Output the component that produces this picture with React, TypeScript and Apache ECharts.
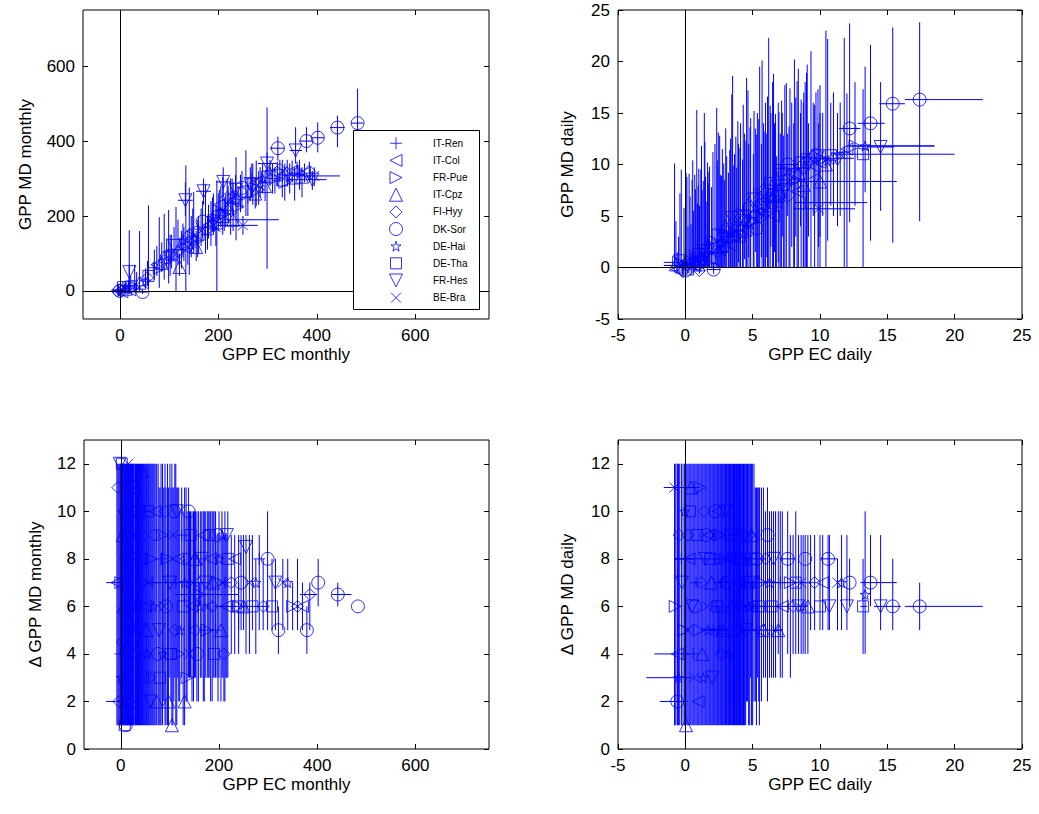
import React, { useEffect, useRef } from 'react';
import * as echarts from 'echarts';

const FONT = '"Liberation Sans", Arial, Helvetica, sans-serif';
const BLUE = '#0000ff';

const SITES = ['IT-Ren', 'IT-Col', 'FR-Pue', 'IT-Cpz', 'FI-Hyy', 'DK-Sor', 'DE-Hai', 'DE-Tha', 'FR-Hes', 'BE-Bra'];
const SYMBOLS = [
  'path://M5,0L5,10M0,5L10,5',
  'path://M10,0L0,5L10,10Z',
  'path://M0,0L10,5L0,10Z',
  'path://M5,0L10,10L0,10Z',
  'path://M5,0L10,5L5,10L0,5Z',
  'path://M0,5A5,5,0,1,1,10,5A5,5,0,1,1,0,5Z',
  'path://M50,0L61.23,34.55L97.55,34.55L68.16,55.9L79.39,90.45L50,69.1L20.61,90.45L31.84,55.9L2.45,34.55L38.77,34.55Z',
  'path://M0,0L10,0L10,10L0,10Z',
  'path://M0,0L10,0L5,10Z',
  'path://M0,0L10,10M10,0L0,10',
];
const SYMBOL_SIZES = [12, 12, 12, 13, 12, 13, 10, 11, 13, 10];

const MONTHLY_TICKS = [0, 200, 400, 600];
const DAILY_TICKS = [-5, 0, 5, 10, 15, 20, 25];
const DELTA_TICKS = [0, 2, 4, 6, 8, 10, 12];

// [site, x, y, yLow, yHigh, xLow?, xHigh?]
const gppMonthly = [
  [0, -3, 2, -6, 12, -14, 8], [1, 4, -2, -8, 6], [2, 8, 3, -4, 14], [3, 12, 6, -2, 20], [4, -6, 0, -5, 6, -16, 4],
  [5, 46, -3, -8, 4, 34, 56], [6, 18, 8, 0, 30], [7, 22, 12, 2, 40], [8, 19, 50, 30, 70], [9, 10, 5, -4, 18],
  [4, 2, -1, -6, 5], [7, 6, 10, -2, 26], [1, 20, 3, -3, 10], [9, 34, 16, 4, 50], [0, 19, 14, 0, 162],
  [3, 40, 22, 0, 160], [2, 30, 10, 0, 70], [5, 0, 0, -8, 8, -12, 12], [6, 52, 26, 8, 60], [4, 56, 35, 14, 80],
  [7, 58, 40, 5, 228], [0, 70, 62, 30, 110], [1, 75, 70, 40, 120], [2, 80, 60, 8, 197], [3, 85, 75, 50, 130],
  [4, 90, 82, 30, 206], [5, 95, 90, 60, 140], [6, 99, 100, 20, 216], [7, 105, 95, 60, 150], [8, 110, 120, 80, 170],
  [9, 114, 100, 0, 224], [3, 121, 64, 40, 100], [0, 125, 110, 60, 160], [1, 130, 118, 80, 170], [8, 133, 242, 200, 290, 118, 148],
  [2, 134, 125, 0, 335], [4, 141, 150, 43, 276], [5, 145, 130, 90, 200], [3, 155, 117, 80, 160], [6, 150, 140, 100, 264],
  [7, 160, 150, 100, 200], [8, 170, 266, 230, 300, 155, 185], [9, 165, 160, 120, 220], [0, 174, 170, 100, 286], [1, 180, 175, 140, 230],
  [2, 185, 165, 120, 240], [4, 190, 190, 150, 260], [7, 197, 180, 0, 295], [5, 200, 200, 160, 260], [6, 205, 210, 170, 280],
  [8, 210, 291, 250, 330, 195, 225], [3, 209, 200, 150, 304], [0, 215, 215, 170, 260], [9, 220, 230, 180, 280], [7, 225, 220, 150, 300],
  [1, 230, 240, 200, 290], [4, 236, 245, 135, 357], [2, 240, 225, 180, 280], [9, 250, 175, 150, 200, 200, 280], [3, 230, 190, 160, 220, 212, 323],
  [5, 245, 260, 210, 310], [7, 256, 265, 200, 375], [0, 260, 250, 200, 300], [8, 265, 285, 240, 330], [4, 270, 280, 230, 340],
  [1, 277, 290, 227, 348], [2, 282, 270, 230, 320], [6, 290, 300, 260, 340], [7, 299, 305, 59, 490], [3, 295, 280, 240, 320],
  [8, 299, 340, 310, 370, 280, 320], [5, 321, 381, 348, 412, 305, 335], [0, 310, 300, 260, 340], [7, 320, 310, 280, 345], [9, 330, 320, 290, 350],
  [2, 335, 290, 241, 340], [4, 340, 315, 280, 350], [6, 345, 305, 260, 340], [1, 350, 320, 290, 348], [7, 355, 300, 241, 330],
  [8, 357, 375, 340, 437, 345, 370], [0, 365, 310, 270, 350, 355, 375], [3, 370, 305, 250, 330], [5, 379, 400, 370, 437, 365, 392], [4, 385, 320, 290, 345],
  [8, 391, 297, 270, 320, 340, 420], [9, 395, 307, 280, 330, 365, 447], [5, 402, 409, 370, 450, 390, 415], [5, 442, 436, 384, 468, 427, 457], [5, 483, 448, 390, 540, 470, 495],
  [0, 102, 85, 40, 150], [4, 118, 105, 70, 190], [6, 128, 135, 90, 180], [9, 138, 115, 70, 160], [1, 148, 160, 110, 220],
  [2, 158, 135, 90, 190], [5, 168, 185, 140, 240], [0, 178, 150, 110, 200], [6, 188, 200, 160, 250], [9, 195, 170, 120, 230],
  [1, 202, 230, 190, 270], [2, 212, 205, 160, 250], [4, 218, 250, 200, 300], [6, 228, 255, 210, 300], [8, 235, 270, 230, 310],
  [5, 248, 275, 220, 320], [0, 268, 300, 250, 340], [3, 275, 260, 220, 300], [9, 285, 290, 250, 330], [6, 305, 318, 280, 350],
  [2, 315, 300, 260, 330], [4, 325, 325, 290, 350], [7, 330, 295, 250, 330], [6, 360, 322, 300, 345], [1, 375, 315, 290, 340],
];

const gppDaily = [
  [0, -0.8, 0.2, 0, 10.1, -1.6, 0.5], [1, -0.6, -0.2, -0.6, 1.5], [2, -0.5, 0.5, 0, 3, -1.6, 0.2], [3, -0.3, 0.1, 0, 9.5], [4, -0.2, -0.4, -0.6, 0.8],
  [5, 0.0, -0.3, -0.6, 2], [6, 0.05, 0.3, 0, 9.2], [7, 0.2, -0.2, -0.5, 4], [8, 0.35, 0.4, 0, 6.9], [9, 0.5, 0.1, 0, 8.5],
  [0, 0.6, 0.5, 0, 5.5], [1, 0.7, 0.2, 0, 9], [2, 0.85, 0.8, 0, 15.3], [3, 0.95, 0.3, 0, 8], [4, 1.05, -0.3, -0.6, 6],
  [5, 1.15, 0.6, 0, 9.5], [6, 1.25, 1.0, 0, 7.5], [7, 1.41, 0.8, 0, 15.0], [8, 1.5, 1.2, 0, 8.8], [9, 1.6, 0.4, 0, 6.4],
  [0, 1.7, 1.5, 0, 8.2], [1, 1.8, 0.9, 0, 9.8], [5, 2.1, -0.2, -0.6, 0.5, 1.6, 2.6], [2, 2.2, 1.8, 0, 12], [3, 2.33, 2.0, 0, 15.5],
  [4, 2.45, 1.5, 0, 13.1], [6, 2.6, 2.4, 0, 9], [7, 2.75, 2.0, 0, 11.5], [8, 2.9, 2.8, 0, 8.5], [9, 3.07, 2.5, 0, 10.8],
  [0, 3.2, 3.0, 0, 9.2], [1, 3.35, 2.2, 0, 12.5], [2, 3.51, 3.5, 0, 18.6], [3, 3.65, 3.2, 0, 11], [4, 3.81, 3.0, 0, 9.7],
  [5, 3.95, 3.8, 0.5, 12], [6, 4.1, 4.0, 0, 14], [7, 4.25, 3.5, 0, 10.5], [8, 4.4, 4.5, 0.8, 13], [9, 4.55, 4.2, 0, 18.4],
  [0, 4.7, 4.8, 1, 12], [1, 4.85, 5.0, 0, 14.5], [2, 5.05, 4.5, 0, 11], [3, 5.2, 5.5, 1.5, 13.5], [4, 5.35, 5.0, 0, 15],
  [5, 5.52, 6.0, 0, 19.5], [6, 5.65, 5.5, 1, 12], [7, 5.8, 6.2, 0, 14], [8, 5.95, 5.8, 0, 16], [9, 6.05, 6.5, 1, 13],
  [0, 6.19, 7.0, 0, 22.3], [1, 6.35, 6.0, 2, 15], [2, 6.48, 6.8, 0, 18], [3, 6.62, 7.2, 1.5, 14], [4, 6.78, 7.5, 0, 10.8],
  [5, 6.9, 7.0, 0.5, 16], [6, 7.05, 7.8, 0, 13], [7, 7.2, 8.0, 3, 15], [8, 7.39, 7.5, 0, 17.7], [5, 7.6, 10.0, 5, 13, 6.8, 8.4],
  [9, 7.77, 8.5, 0, 17.4], [0, 7.9, 8.2, 2, 16], [1, 8.05, 9.0, 0, 14], [2, 8.2, 8.5, 3, 16.5], [3, 8.39, 9.2, 0, 19.3],
  [4, 8.55, 9.8, 4, 15], [6, 8.76, 9.5, 0, 16], [0, 8.9, 6.3, 0, 18, 8.1, 13.5], [7, 9.0, 10.5, 0, 18.9], [8, 9.15, 10.0, 3, 14],
  [9, 9.33, 9.8, 0, 21], [4, 9.5, 10.8, 5, 16], [5, 9.7, 10.9, 6, 17], [9, 9.9, 5.7, 2, 14, 8.0, 12.6], [1, 10.0, 10.2, 0, 17.7],
  [2, 10.2, 10.5, 5, 15], [3, 10.44, 10.0, 0, 23.0], [6, 10.57, 10.4, 2.6, 22.2], [7, 10.8, 10.9, 6, 16], [4, 11.0, 10.6, 5, 17, 9.5, 12.5],
  [8, 11.3, 10.5, 4, 15], [9, 11.5, 11.0, 5, 16], [0, 11.8, 11.2, 0, 22.3], [1, 12.0, 11.5, 0, 16.9], [5, 12.2, 13.5, 4.4, 23.7, 11.4, 13.0],
  [2, 12.6, 11.8, 6, 18, 12.2, 18.5], [7, 13.2, 11.0, 0, 17.3, 11.0, 20.0], [6, 13.35, 11.8, 7.3, 19.5, 12.0, 18.5], [5, 13.75, 14.0, 2.6, 21.6, 12.8, 14.8], [8, 14.5, 11.7, 5.5, 18, 13.5, 15.5],
  [5, 15.4, 15.9, 2.4, 23.3, 14.4, 16.3], [5, 17.4, 16.3, 4.5, 23.8, 16.3, 22.1], [3, 10.0, 8.35, 3, 15, 8.3, 15.7],
  [3, -0.7, 0.3, 0, 4.5], [8, -0.4, 0.6, 0, 7.2], [0, -0.1, 0.2, 0, 5.8], [9, 0.12, 0.0, 0, 8.8], [1, 0.28, 0.5, 0, 9.1],
  [4, 0.42, -0.1, 0, 4.2], [6, 0.55, 0.7, 0, 10.4], [2, 0.75, 1.1, 0, 7.6], [5, 0.9, 0.4, 0, 6.2], [7, 1.0, 1.3, 0, 9.6],
  [3, 1.2, 0.9, 0, 11.8], [8, 1.33, 1.6, 0, 8.4], [0, 1.45, 1.0, 0, 12.2], [4, 1.65, 1.9, 0, 10.2], [6, 1.75, 2.3, 0, 9.3],
  [9, 1.95, 1.4, 0, 7.8], [2, 2.05, 2.6, 0, 11.2], [7, 2.4, 3.2, 0, 10.4], [1, 2.55, 1.7, 0, 12.8], [0, 2.68, 3.6, 0, 8.9],
  [5, 2.85, 2.1, 0, 10.1], [3, 3.0, 4.0, 0, 13.5], [6, 3.3, 3.4, 0, 11.4], [8, 3.45, 4.8, 0, 16.8], [2, 3.6, 2.8, 0, 9.9],
  [9, 3.75, 4.4, 0, 12.7], [4, 3.9, 5.2, 0, 14.2], [7, 4.05, 3.0, 0, 11.6], [0, 4.3, 5.6, 0, 15.8], [1, 4.5, 3.6, 0, 12.3],
  [3, 4.65, 6.1, 0, 17.2], [6, 4.8, 4.2, 0, 13.6], [8, 5.1, 6.6, 0, 15.2], [5, 5.3, 3.8, 0, 12.9], [9, 5.45, 7.2, 0, 14.4],
  [2, 5.7, 4.8, 0, 20.1], [4, 5.85, 7.6, 0, 13.2], [0, 6.1, 5.4, 0, 16.6], [7, 6.3, 8.2, 0, 15.7], [1, 6.55, 5.0, 0, 18.8],
  [3, 6.7, 8.6, 0, 14.9], [6, 6.95, 6.2, 0, 15.1], [8, 7.15, 9.0, 0, 16.2], [9, 7.3, 6.6, 0, 12.8], [2, 7.5, 9.4, 0, 17.9],
  [4, 7.7, 7.0, 0, 13.7], [0, 8.1, 9.6, 0, 20.2], [1, 8.3, 7.4, 0, 18.1], [7, 8.6, 10.2, 0, 16.3], [3, 8.8, 8.0, 0, 17.0],
  [6, 9.05, 10.6, 0, 19.7], [2, 9.6, 9.2, 0, 15.8], [8, 9.85, 10.8, 0, 17.3],
];

const deltaMonthly = [
  [8, -2, 12, 1, 12], [7, 2, 12, 1, 12], [4, -6, 11, 1, 12], [1, -8, 7, 1, 12, -30, 0], [2, 0, 7, 1, 12],
  [4, 3, 4.5, 1, 12], [6, 5, 2, 1, 12, -30, 10], [7, 8, 1, 1, 12], [5, 10, 1, 1, 12], [3, 12, 3, 1, 12],
  [9, 14, 7, 1, 12], [0, 16, 5, 1, 12], [2, 18, 9, 1, 12], [1, 20, 10, 1, 12], [8, 22, 11, 1, 12],
  [7, 24, 1.5, 1, 12], [4, -4, 2, 1, 12], [6, 1, 3, 1, 12], [3, 6, 6, 1, 12], [0, 9, 8, 1, 12],
  [5, 11, 10, 1, 12], [8, 13, 4, 1, 12], [9, 15, 12, 1, 12], [2, 17, 2, 1, 12], [1, 19, 6, 1, 12],
  [6, 21, 5, 1, 12], [7, 23, 8, 1, 12], [3, 4, 9, 1, 12], [4, 7, 10, 1, 12], [0, -1, 4, 1, 12],
  [7, 27, 11, 1, 12], [3, 43, 11.7, 1, 12], [4, 30, 10, 1, 12], [5, 36, 10, 1, 12], [9, 40, 9, 1, 12],
  [2, 46, 7, 1, 12], [1, 50, 6, 1, 12], [6, 53, 4, 1, 12], [7, 56, 10, 1, 12], [8, 60, 2, 1, 12],
  [0, 64, 7, 1, 12], [4, 68, 9, 1, 12], [3, 73, 2, 1, 12], [5, 76, 4, 1, 12],
  [7, 80, 3, 1, 11], [2, 85, 9, 1, 12], [9, 88, 6, 2, 11], [4, 90, 10, 1, 12], [3, 97, 2, 1, 11],
  [8, 100, 7, 3, 12], [3, 104, 1, 1, 12], [5, 108, 10, 2, 11], [0, 112, 7, 1, 12], [1, 116, 8, 3, 11],
  [6, 120, 5, 2, 10], [3, 130, 2, 1, 11], [2, 135, 3, 2, 10], [5, 138, 10, 3, 11],
  [7, 142, 9, 3, 10], [9, 148, 7, 2, 10], [4, 152, 5, 3, 10], [0, 158, 8, 2, 10], [6, 162, 6, 3, 10],
  [1, 168, 9, 2, 10], [8, 172, 7, 3, 10], [2, 176, 5, 3, 10], [7, 180, 9, 3, 10], [4, 186, 6, 2, 10],
  [7, 190, 4, 3, 10], [5, 196, 9, 3, 9], [6, 200, 8, 3, 10], [3, 204, 5, 2, 9], [9, 208, 7, 3, 9],
  [0, 212, 7, 2, 10], [8, 216, 9, 3, 9],
  [4, 225, 7, 4, 9], [1, 232, 8, 4, 9], [2, 240, 6, 4, 9], [5, 245, 7, 5, 9], [3, 250, 6, 5, 9],
  [8, 255, 8.5, 4, 9], [9, 262, 7, 4, 9], [7, 268, 6, 5, 9], [6, 275, 7, 4, 8], [0, 282, 8, 5, 9],
  [5, 299, 8, 5, 10], [4, 290, 6, 5, 8],
  [7, 308, 6, 5, 8], [8, 315, 7, 5, 8], [5, 321, 5, 4, 6], [9, 330, 7, 5, 8], [6, 340, 7, 5, 8],
  [2, 350, 6, 5, 7], [4, 360, 6, 5, 8], [1, 370, 6, 5, 7], [5, 379, 5, 4, 6], [4, 385, 6.5, 5, 7, 365, 400],
  [5, 402, 7, 6, 8], [5, 442, 6.5, 6, 7, 430, 470], [5, 483, 6, 6, 6],
  [6, 130, 7, 6, 8, 60, 180], [2, 160, 6.5, 6, 7, 110, 240], [7, 240, 6, 5, 7, 190, 300],
  [9, 26, 8, 1, 12], [0, 29, 6, 1, 12], [2, 32, 4, 1, 12], [6, 34, 9, 1, 12], [8, 38, 5, 1, 12],
  [1, 42, 8, 1, 12], [5, 44, 3, 1, 12], [0, 48, 10, 1, 12], [3, 52, 5, 1, 12], [9, 55, 7, 1, 12],
  [4, 58, 3, 1, 12], [2, 62, 8, 1, 12], [6, 66, 6, 1, 12], [1, 70, 10, 1, 12], [8, 78, 5, 1, 11],
  [0, 82, 8, 1, 12], [6, 86, 4, 2, 11], [5, 92, 6, 1, 11], [2, 95, 8, 1, 12], [7, 102, 4, 2, 11],
  [9, 106, 9, 1, 11], [4, 110, 5, 3, 12], [8, 114, 10, 1, 11], [2, 118, 4, 2, 11], [0, 124, 9, 3, 11],
  [7, 127, 6, 1, 10], [4, 133, 8, 2, 11], [9, 140, 4, 3, 10], [1, 145, 6, 2, 10], [3, 150, 8, 3, 10],
  [5, 155, 4, 2, 10], [8, 165, 8, 3, 10], [0, 170, 5, 2, 10], [9, 178, 6, 3, 10], [1, 183, 8, 2, 10],
  [3, 188, 7, 3, 10], [0, 193, 5, 3, 10], [2, 198, 7, 2, 9], [6, 206, 9, 3, 10], [4, 210, 4, 2, 9],
  [1, 214, 6, 3, 9], [7, 218, 8, 3, 10],
];

const deltaDaily = [
  [9, -0.8, 11, 1, 12, -1.6, 1.1], [1, -0.6, 4, 1, 12, -2.3, 0.3], [6, -0.5, 3, 1, 12, -2.9, 0.5], [5, -0.6, 2, 1, 12, -1.9, 0.2], [0, -0.3, 8, 1, 12, -0.8, 0.6],
  [2, -0.1, 5, 1, 12], [3, 0.05, 1, 1, 12], [4, 0.2, 9, 1, 12], [7, 0.35, 10, 1, 12], [8, 0.5, 6, 1, 12],
  [9, 0.65, 3, 1, 12], [0, 0.8, 7, 1, 12], [1, 0.95, 2, 1, 12], [2, 1.1, 11, 1, 12], [3, 1.25, 4, 1, 12],
  [4, 1.4, 10, 1, 12], [5, 1.55, 9, 1, 12], [6, 1.7, 5, 1, 12], [7, 1.85, 8, 1, 12], [8, 2.0, 3, 1, 12],
  [9, 2.15, 9, 1, 12], [0, 2.3, 6, 1, 12], [1, 2.45, 10, 1, 12], [2, 2.6, 8, 1, 12], [3, 2.75, 5, 1, 12],
  [4, 2.9, 9, 1, 12], [5, 3.05, 7, 1, 12], [6, 3.2, 4, 1, 12], [7, 3.35, 9, 1, 12], [8, 3.5, 8, 1, 12],
  [9, 3.65, 6, 1, 12], [0, 3.8, 9, 1, 12], [1, 3.95, 7, 1, 12], [2, 4.1, 5, 1, 12], [3, 4.25, 8, 1, 12],
  [4, 4.4, 9, 1, 12], [5, 4.55, 7, 2, 12], [6, 4.7, 6, 1, 12], [7, 4.85, 8, 3, 12], [8, 5.0, 7, 1, 12],
  [9, 5.2, 9, 2, 11], [0, 5.35, 6, 3, 11], [1, 5.5, 5, 1, 11], [2, 5.65, 7, 2, 11], [3, 5.8, 5, 3, 11],
  [4, 5.95, 8, 3, 10], [5, 6.1, 9, 2, 11], [6, 6.25, 7, 3, 10], [7, 6.4, 6, 3, 10], [8, 6.55, 8, 3, 10],
  [9, 6.7, 5, 3, 10], [3, 6.9, 5, 4, 10, 6.5, 7.2], [0, 7.05, 7, 3, 10], [1, 7.2, 6, 3, 10], [5, 7.6, 8, 4, 10, 7, 8.2],
  [2, 7.8, 7, 3, 9], [4, 8.0, 6, 4, 9], [7, 8.2, 7, 4, 10], [8, 8.4, 6, 4, 9], [9, 8.6, 7, 4, 9],
  [6, 8.75, 6, 4, 9], [5, 8.9, 8, 4, 9], [3, 9.1, 6, 4, 9], [0, 9.3, 7, 5, 9], [4, 9.6, 7, 5, 9],
  [7, 10.0, 6, 5, 9], [1, 10.2, 7, 5, 9], [5, 10.6, 8, 5, 9, 10, 11.3], [8, 10.7, 6, 5, 9], [9, 11.3, 7, 5, 8],
  [6, 11.6, 7, 5, 9], [5, 12.2, 7, 6, 8], [8, 12.0, 6, 5, 9], [7, 13.2, 6, 4, 8, 13.0, 13.5], [6, 13.35, 6.5, 4, 10],
  [5, 13.75, 7, 6, 9, 13, 15.7], [8, 14.5, 6, 5, 9], [5, 15.4, 6, 5, 8, 14, 16], [5, 17.4, 6, 5, 7, 16.3, 22.1],
  [2, 3.0, 8, 7, 9, -0.8, 6], [4, 4.0, 7, 6, 8, 2.1, 9], [9, 5.0, 6, 5, 7, 3, 9], [6, 2.5, 5, 4, 6, 1.1, 7.2],
  [2, -0.75, 6, 1, 12], [4, -0.45, 9, 1, 12], [8, -0.25, 7, 1, 12], [6, -0.05, 10, 1, 12], [9, 0.12, 5, 1, 12],
  [1, 0.28, 8, 1, 12], [3, 0.42, 11, 1, 12], [0, 0.58, 4, 1, 12], [5, 0.72, 6, 1, 12], [7, 0.88, 9, 1, 12],
  [2, 1.02, 5, 1, 12], [4, 1.18, 7, 1, 12], [6, 1.32, 3, 1, 12], [8, 1.48, 8, 1, 12], [9, 1.62, 6, 1, 12],
  [1, 1.78, 9, 1, 12], [3, 1.92, 7, 1, 12], [0, 2.08, 5, 1, 12], [5, 2.22, 10, 1, 12], [7, 2.38, 6, 1, 12],
  [2, 2.52, 9, 1, 12], [4, 2.68, 4, 1, 12], [6, 2.82, 7, 1, 12], [8, 2.98, 10, 1, 12], [9, 3.12, 5, 1, 12],
  [1, 3.28, 8, 1, 12], [3, 3.42, 6, 1, 12], [0, 3.58, 9, 1, 12], [5, 3.72, 5, 1, 12], [7, 3.88, 8, 1, 12],
  [2, 4.02, 6, 1, 12], [4, 4.18, 9, 1, 12], [6, 4.32, 7, 1, 12], [8, 4.48, 5, 1, 12], [9, 4.62, 8, 2, 12],
  [1, 4.78, 6, 1, 12], [3, 4.92, 9, 1, 12], [0, 5.1, 7, 2, 12], [5, 5.28, 8, 1, 11], [7, 5.45, 6, 2, 11],
];

function buildOption() {
  const panels = [
    { rows: gppMonthly, grid: { left: 83, top: 10, width: 406, height: 309 }, x: [-75, 750], y: [-75, 750], xt: MONTHLY_TICKS, yt: MONTHLY_TICKS, xn: 'GPP EC monthly', yn: 'GPP MD monthly', yg: 49, zeroY: true },
    { rows: gppDaily, grid: { left: 618, top: 10, width: 404, height: 309 }, x: [-5, 25], y: [-5, 25], xt: DAILY_TICKS, yt: DAILY_TICKS, xn: 'GPP EC daily', yn: 'GPP MD daily', yg: 42, zeroY: true },
    { rows: deltaMonthly, grid: { left: 84, top: 440, width: 405, height: 309 }, x: [-75, 750], y: [0, 13], xt: MONTHLY_TICKS, yt: DELTA_TICKS, xn: 'GPP EC monthly', yn: 'Δ GPP MD monthly', yg: 40, zeroY: false },
    { rows: deltaDaily, grid: { left: 618, top: 440, width: 404, height: 309 }, x: [-5, 25], y: [0, 13], xt: DAILY_TICKS, yt: DELTA_TICKS, xn: 'GPP EC daily', yn: 'Δ GPP MD daily', yg: 42, zeroY: false },
  ];
  const grid: any[] = [];
  const xAxis: any[] = [];
  const yAxis: any[] = [];
  const series: any[] = [];
  const labelStyle = { fontSize: 17, color: '#000', fontFamily: FONT };
  panels.forEach((p, i) => {
    grid.push({ ...p.grid, show: true, borderColor: '#000', borderWidth: 1, backgroundColor: '#fff', containLabel: false });
    const tick = (vals: number[]) => ({ show: true, inside: true, length: 5, lineStyle: { color: '#000', width: 1 }, customValues: vals });
    xAxis.push({
      type: 'value', gridIndex: i, position: 'bottom', min: p.x[0], max: p.x[1],
      name: p.xn, nameLocation: 'middle', nameGap: 27, nameTextStyle: labelStyle,
      axisLine: { show: false, onZero: false }, axisTick: tick(p.xt),
      axisLabel: { show: true, margin: 8, ...labelStyle, customValues: p.xt }, splitLine: { show: false },
    });
    xAxis.push({
      type: 'value', gridIndex: i, position: 'top', min: p.x[0], max: p.x[1],
      axisLine: { show: false, onZero: false }, axisTick: tick(p.xt),
      axisLabel: { show: false, customValues: p.xt }, splitLine: { show: false },
    });
    yAxis.push({
      type: 'value', gridIndex: i, position: 'left', min: p.y[0], max: p.y[1],
      name: p.yn, nameLocation: 'middle', nameGap: p.yg, nameTextStyle: labelStyle,
      axisLine: { show: false, onZero: false }, axisTick: tick(p.yt),
      axisLabel: { show: true, margin: 8, ...labelStyle, customValues: p.yt }, splitLine: { show: false },
    });
    yAxis.push({
      type: 'value', gridIndex: i, position: 'right', min: p.y[0], max: p.y[1],
      axisLine: { show: false, onZero: false }, axisTick: tick(p.yt),
      axisLabel: { show: false, customValues: p.yt }, splitLine: { show: false },
    });
    const xi = 2 * i;
    series.push({
      type: 'custom', xAxisIndex: xi, yAxisIndex: xi, silent: true, z: 2,
      data: p.rows.map((r) => [r[1], r[2], r[3] ?? r[2], r[4] ?? r[2], r[5] ?? r[1], r[6] ?? r[1]]),
      renderItem: (params: any, api: any) => {
        const cs = params.coordSys;
        const cx = (v: number) => Math.max(cs.x, Math.min(cs.x + cs.width, v));
        const cy = (v: number) => Math.max(cs.y, Math.min(cs.y + cs.height, v));
        const x = api.value(0), y = api.value(1), yl = api.value(2), yh = api.value(3), xl = api.value(4), xh = api.value(5);
        const children: any[] = [];
        const style = { stroke: BLUE, lineWidth: 1 };
        if (yh > yl) {
          const a = api.coord([x, yl]);
          const b = api.coord([x, yh]);
          children.push({ type: 'line', shape: { x1: a[0], y1: cy(a[1]), x2: b[0], y2: cy(b[1]) }, style });
        }
        if (xh > xl) {
          const a = api.coord([xl, y]);
          const b = api.coord([xh, y]);
          children.push({ type: 'line', shape: { x1: cx(a[0]), y1: a[1], x2: cx(b[0]), y2: b[1] }, style });
        }
        return { type: 'group', children };
      },
    });
    SITES.forEach((name, s) => {
      series.push({
        type: 'scatter', name, xAxisIndex: xi, yAxisIndex: xi, silent: true, z: 3,
        symbol: SYMBOLS[s], symbolSize: SYMBOL_SIZES[s],
        itemStyle: { color: 'none', borderColor: BLUE, borderWidth: 1 },
        data: p.rows.filter((r) => r[0] === s).map((r) => [r[1], r[2]]),
        markLine: s === 0 ? {
          silent: true, symbol: ['none', 'none'], label: { show: false },
          lineStyle: { color: '#000', width: 1, type: 'solid' },
          data: p.zeroY ? [{ xAxis: 0 }, { yAxis: 0 }] : [{ xAxis: 0 }],
        } : undefined,
      });
    });
  });

  // Legend key drawn as a small extra grid: one row per site.
  grid.push({ left: 386, top: 134.7, width: 20, height: 171.5, show: false });
  xAxis.push({ type: 'value', gridIndex: 4, min: -1, max: 1, show: false });
  yAxis.push({
    type: 'category', gridIndex: 4, data: SITES, inverse: true, position: 'right', z: 12,
    axisLine: { show: false }, axisTick: { show: false }, splitLine: { show: false },
    axisLabel: { margin: 27, fontSize: 10, color: '#000', fontFamily: FONT, align: 'left' },
  });
  series.push({
    type: 'scatter', xAxisIndex: 8, yAxisIndex: 8, silent: true, z: 11,
    itemStyle: { color: 'none', borderColor: BLUE, borderWidth: 1 },
    data: SITES.map((n, i) => ({ value: [0, n], symbol: SYMBOLS[i], symbolSize: SYMBOL_SIZES[i] })),
  });

  return {
    animation: false,
    backgroundColor: '#fff',
    grid, xAxis, yAxis, series,
    graphic: [
      { type: 'rect', z: 10, silent: true, shape: { x: 353.5, y: 130.5, width: 126, height: 179 }, style: { fill: '#fff', stroke: '#000', lineWidth: 1 } },
    ],
  };
}

export default function App() {
  const ref = useRef<HTMLDivElement>(null);
  useEffect(() => {
    const chart = echarts.init(ref.current!, null, { renderer: 'svg' });
    chart.setOption(buildOption() as any);
    return () => chart.dispose();
  }, []);
  return <div ref={ref} style={{ position: 'absolute', left: 0, top: 0, width: 1039, height: 814, background: '#fff' }} />;
}
